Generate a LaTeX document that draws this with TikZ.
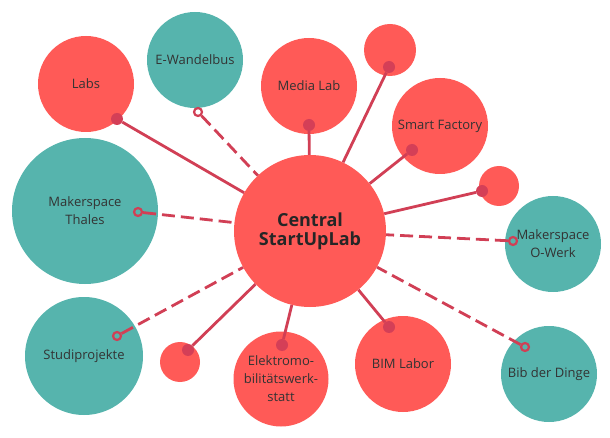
\documentclass[tikz,border=0pt]{standalone}
\usepackage{fontspec}
\setmainfont{Open Sans}
\definecolor{coral}{HTML}{FF5A57}
\definecolor{tealc}{HTML}{56B4AD}
\definecolor{linec}{HTML}{D13F55}
\definecolor{dotc}{HTML}{D43F57}
\definecolor{txt}{HTML}{333333}
\begin{document}
\begin{tikzpicture}[x=1pt,y=-1pt,
  bub/.style={circle,inner sep=0pt,text=txt,align=center,font=\fontsize{13}{18}\selectfont},
  redb/.style={bub,fill=coral},
  tealb/.style={bub,fill=tealc},
  dotn/.style={circle,fill=dotc,minimum size=12pt,inner sep=0pt},
  ringn/.style={circle,draw=linec,line width=2.2pt,minimum size=8pt,inner sep=0pt},
  conn/.style={draw=linec,line width=2.8pt},
  dconn/.style={conn,dash pattern=on 13pt off 6pt}]
\useasboundingbox (0,0) rectangle (610,438);
% bubbles
\node[redb,minimum size=96pt] (labs) at (86,84) {Labs};
\node[tealb,minimum size=96pt] (ewb) at (195,60) {E-Wandelbus};
\node[redb,minimum size=96pt] (media) at (309,86) {Media Lab};
\node[redb,minimum size=52pt] (s1) at (390,50) {};
\node[redb,minimum size=96pt] (smart) at (440,126) {Smart Factory};
\node[redb,minimum size=40pt] (s2) at (499,186) {};
\node[tealb,minimum size=96pt] (owerk) at (553,244) {Makerspace\\O-Werk};
\node[tealb,minimum size=96pt] (bib) at (549,374) {Bib der Dinge};
\node[redb,minimum size=96pt] (bim) at (403,364) {BIM Labor};
\node[redb,minimum size=95pt] (elek) at (281,379) {Elektromo-\\bilitätswerk-\\statt};
\node[redb,minimum size=40pt] (s3) at (180,362) {};
\node[tealb,minimum size=118pt] (studi) at (84,356) {Studiprojekte};
\node[tealb,minimum size=146pt] (thales) at (85,211) {Makerspace\\Thales};
% markers
\node[dotn] (dlabs) at (117,119) {};
\node[ringn] (rewb) at (198,112) {};
\node[dotn] (dmedia) at (309,125) {};
\node[dotn] (ds1) at (389,67) {};
\node[dotn] (dsmart) at (412,150) {};
\node[dotn] (ds2) at (482,191) {};
\node[ringn] (rowerk) at (513,241) {};
\node[ringn] (rbib) at (525,347) {};
\node[dotn] (dbim) at (389,327) {};
\node[dotn] (delek) at (282,345) {};
\node[dotn] (ds3) at (188,350) {};
\node[ringn] (rstudi) at (117,336) {};
\node[ringn] (rthales) at (138,212) {};
% central
\node[redb,minimum size=152pt,font=\bfseries\fontsize{18}{19}\selectfont,text=black!85] (c) at (310,231) {Central\\StartUpLab};
% connectors
\draw[conn] (dlabs) -- (c);
\draw[dconn] (rewb) -- (c);
\draw[conn] (dmedia) -- (c);
\draw[conn] (ds1) -- (c);
\draw[conn] (dsmart) -- (c);
\draw[conn] (ds2) -- (c);
\draw[dconn] (rowerk) -- (c);
\draw[dconn] (rbib) -- (c);
\draw[conn] (dbim) -- (c);
\draw[conn] (delek) -- (c);
\draw[conn] (ds3) -- (c);
\draw[dconn] (rstudi) -- (c);
\draw[dconn] (rthales) -- (c);
\end{tikzpicture}
\end{document}
